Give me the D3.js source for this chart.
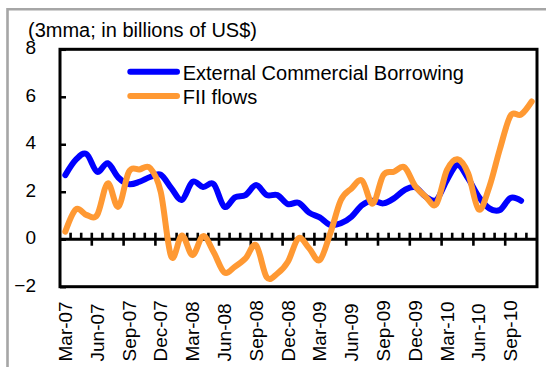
<!DOCTYPE html>
<html>
<head>
<meta charset="utf-8">
<script src="https://cdn.jsdelivr.net/npm/d3@7"></script>
<style>
  html, body { margin: 0; padding: 0; background: #fff; }
  svg { display: block; font-family: "Liberation Sans", Arial, sans-serif; }
</style>
</head>
<body>
<svg id="chart" width="546" height="367"></svg>
<script>
// Monthly categories, Mar-07 .. Nov-10
const categories = [
  "Mar-07","Apr-07","May-07","Jun-07","Jul-07","Aug-07","Sep-07","Oct-07","Nov-07","Dec-07",
  "Jan-08","Feb-08","Mar-08","Apr-08","May-08","Jun-08","Jul-08","Aug-08","Sep-08","Oct-08","Nov-08","Dec-08",
  "Jan-09","Feb-09","Mar-09","Apr-09","May-09","Jun-09","Jul-09","Aug-09","Sep-09","Oct-09","Nov-09","Dec-09",
  "Jan-10","Feb-10","Mar-10","Apr-10","May-10","Jun-10","Jul-10","Aug-10","Sep-10","Oct-10","Nov-10"
];

// External Commercial Borrowing, 3mma, US$ bn (no value yet for Nov-10)
const ecbValues = [
  2.70, 3.35, 3.59, 2.84, 3.20, 2.60, 2.32, 2.42, 2.62, 2.72,
  2.15, 1.66, 2.42, 2.20, 2.32, 1.37, 1.76, 1.86, 2.28, 1.86, 1.86, 1.48,
  1.54, 1.12, 0.92, 0.60, 0.67, 0.95, 1.44, 1.62, 1.51, 1.72, 2.07, 2.19,
  1.79, 1.65, 2.49, 3.13, 2.56, 1.79, 1.30, 1.23, 1.74, 1.62, null
];

// FII flows, 3mma, US$ bn
const fiiValues = [
  0.32, 1.26, 1.02, 1.02, 2.35, 1.37, 2.84, 2.94, 3.00, 2.00,
  -0.74, 0.16, -0.67, 0.13, -0.55, -1.40, -1.16, -0.81, -0.25, -1.60, -1.45, -0.95,
  0.04, -0.38, -0.88, 0.25, 1.65, 2.14, 2.47, 1.50, 2.70, 2.84, 3.03, 2.24,
  1.79, 1.48, 2.91, 3.37, 2.78, 1.25, 2.20, 3.80, 5.20, 5.25, 5.80
];

const yTickValues = [-2, 0, 2, 4, 6, 8];
const seriesNames = ["External Commercial Borrowing", "FII flows"];
const seriesColors = ["#0000FF", "#FF9933"];
const titleText = "(3mma; in billions of US$)";

const svg = d3.select("#chart");

const plot = { left: 60, right: 537, top: 49.3, bottom: 286.7 };

const x = d3.scaleBand().domain(categories).range([plot.left, plot.right]).padding(0);
const bw = x.bandwidth();
const cx = c => x(c) + bw / 2;
const y = d3.scaleLinear().domain([-2, 8]).range([plot.bottom, plot.top]);

// outer chart-area border (left and top edges visible)
svg.append("path")
  .attr("d", "M7.5,367 L7.5,9.3 L546,9.3")
  .attr("fill", "none")
  .attr("stroke", "#a6a6a6")
  .attr("stroke-width", 2.6);

// title
svg.append("text")
  .attr("x", 28).attr("y", 36.5)
  .attr("font-size", 20)
  .attr("fill", "#000")
  .text(titleText);

// plot frame
svg.append("rect")
  .attr("x", plot.left).attr("y", plot.top)
  .attr("width", plot.right - plot.left).attr("height", plot.bottom - plot.top)
  .attr("fill", "none").attr("stroke", "#000").attr("stroke-width", 3);

// y axis: labels + inward ticks
const yAxis = d3.axisLeft(y).tickValues(yTickValues).tickSizeInner(-6).tickSizeOuter(0).tickPadding(24);
const yg = svg.append("g").attr("transform", `translate(${plot.left},0)`).call(yAxis);
yg.select(".domain").remove();
yg.selectAll(".tick line").attr("stroke", "#000").attr("stroke-width", 2.5);
yg.selectAll(".tick text")
  .attr("font-size", 19).attr("font-family", "Liberation Sans, Arial, sans-serif")
  .attr("fill", "#000").attr("dy", "0.35em")
  .attr("transform", "translate(0,-2)");

// zero line with monthly ticks
const y0 = y(0);
const zeroG = svg.append("g");
zeroG.append("line")
  .attr("x1", plot.left).attr("x2", plot.right)
  .attr("y1", y0).attr("y2", y0)
  .attr("stroke", "#000").attr("stroke-width", 3);
categories.forEach((c, i) => {
  if (i === 0) return;
  const bx = x(c);
  const major = i % 3 === 0;
  zeroG.append("line")
    .attr("x1", bx).attr("x2", bx)
    .attr("y1", y0 - 6.5).attr("y2", major ? y0 + 6.5 : y0)
    .attr("stroke", "#000").attr("stroke-width", 2.6);
});

// category labels every quarter, rotated
const xLabels = categories.filter((c, i) => i % 3 === 0);
const xAxis = d3.axisBottom(x).tickValues(xLabels).tickSize(0);
const xg = svg.append("g").attr("transform", `translate(0,${plot.bottom})`).call(xAxis);
xg.select(".domain").remove();
xg.selectAll(".tick text")
  .attr("font-size", 19).attr("font-family", "Liberation Sans, Arial, sans-serif")
  .attr("fill", "#000")
  .attr("text-anchor", "start")
  .attr("transform", "translate(0,74.8) rotate(-90)")
  .attr("x", 0).attr("y", 0).attr("dy", "0.35em");

// series lines
const line = d3.line()
  .defined(d => d.v !== null)
  .x(d => cx(d.c))
  .y(d => y(d.v))
  .curve(d3.curveCardinal.tension(0));

const series = [ecbValues, fiiValues].map((vals, k) => ({
  name: seriesNames[k],
  color: seriesColors[k],
  points: categories.map((c, i) => ({ c, v: vals[i] }))
}));

svg.append("g").selectAll("path")
  .data(series)
  .join("path")
  .attr("d", s => line(s.points))
  .attr("fill", "none")
  .attr("stroke", s => s.color)
  .attr("stroke-width", 6)
  .attr("stroke-linecap", "round")
  .attr("stroke-linejoin", "round");

// legend
const legend = svg.append("g");
series.forEach((s, k) => {
  const ly = 71.7 + k * 24.3;
  legend.append("line")
    .attr("x1", 130.3).attr("x2", 177)
    .attr("y1", ly).attr("y2", ly)
    .attr("stroke", s.color).attr("stroke-width", 6)
    .attr("stroke-linecap", "round");
  legend.append("text")
    .attr("x", 182.7).attr("y", ly + 8.3)
    .attr("font-size", 20).attr("fill", "#000")
    .text(s.name);
});
</script>
</body>
</html>
